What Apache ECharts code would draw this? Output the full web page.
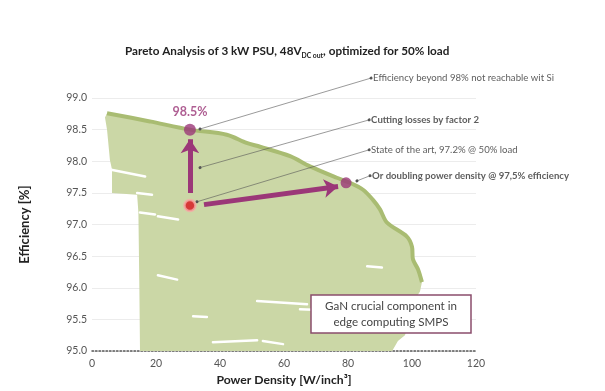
<!DOCTYPE html>
<html><head><meta charset="utf-8">
<script src="https://cdn.jsdelivr.net/npm/echarts@6.0.0/dist/echarts.min.js"></script>
<style>html,body{margin:0;padding:0;background:#fff}#c{width:605px;height:391px}</style>
</head><body><div id="c"></div>
<script>
// ---- data ----
const paretoX = [4.7, 18.1, 30.6, 42.1, 48.3, 52.5, 61.9, 68.1, 76.5, 80.6, 84.7, 87.8, 90.0, 92.2, 98.4, 100.0, 100.3, 101.9, 103.1];
const paretoY = [98.76, 98.63, 98.50, 98.42, 98.29, 98.23, 98.08, 97.92, 97.74, 97.66, 97.55, 97.39, 97.24, 97.03, 96.81, 96.65, 96.45, 96.29, 96.09];
const cloudEdgeX = [102.5, 100.9, 99.4, 97.8, 95.6, 93.8, 15.0, 14.8, 14.5, 14.1, 6.25, 6.25, 5.6, 4.7, 4.06];
const cloudEdgeY = [95.94, 95.82, 95.50, 95.25, 95.16, 95.0, 95.0, 96.0, 97.19, 97.47, 97.5, 97.87, 98.02, 98.5, 98.69];
const gapX1 = [5.6, 14.1, 15.0, 20.6, 20.6, 31.6, 51.6, 37.8, 53.4, 86.0, 65.0];
const gapY1 = [97.87, 97.50, 97.19, 97.13, 96.20, 95.55, 95.79, 95.14, 95.16, 96.34, 95.66];
const gapX2 = [16.6, 18.75, 19.7, 26.9, 26.6, 35.9, 67.2, 51.6, 59.7, 90.6, 71.25];
const gapY2 = [97.76, 97.47, 97.16, 97.08, 96.13, 95.54, 95.74, 95.17, 95.11, 96.32, 95.65];
const bestSi = [30.6, 98.5];
const stateOfArt = [30.6, 97.3];
const doubled = [79.4, 97.66];
const arrowFromX = [30.6, 35.0];
const arrowFromY = [97.50, 97.315];
const arrowToX = [30.6, 76.9];
const arrowToY = [98.35, 97.60];
const annoText = ['Efficiency beyond 98% not reachable wit Si', 'Cutting losses by factor 2', 'State of the art, 97.2% @ 50% load', 'Or doubling power density @ 97,5% efficiency'];
const annoBold = [false, true, false, true];
const annoAnchorX = [33.75, 33.75, 32.8, 82.8];
const annoAnchorY = [98.51, 97.90, 97.36, 97.69];
const annoLabelX = [87.2, 86.6, 86.6, 86.9];
const annoLabelY = [99.315, 98.654, 98.181, 97.772];
const yTicks = [95.0, 95.5, 96.0, 96.5, 97.0, 97.5, 98.0, 98.5, 99.0];
const xTicks = [0, 20, 40, 60, 80, 100, 120];

// ---- chart ----
const FONT = 'Lato';
const PURPLE = '#9b3778';
const polyX = paretoX.concat(cloudEdgeX);
const polyY = paretoY.concat(cloudEdgeY);
const chart = echarts.init(document.getElementById('c'), null, {renderer: 'canvas'});
const option = {
  animation: false,
  textStyle: {fontFamily: FONT},
  title: {
    left: 120, top: 38,
    text: '{a|Pareto Analysis of 3 kW PSU, 48V}{s|DC out}{a|, optimized for 50% load}',
    textStyle: {
      rich: {
        a: {fontFamily: FONT, fontSize: 11.7, fontWeight: 'bold', color: '#222', lineHeight: 16, verticalAlign: 'middle'},
        s: {fontFamily: FONT, fontSize: 6.8, fontWeight: 'bold', color: '#222', lineHeight: 16, verticalAlign: 'bottom'}
      }
    }
  },
  grid: {left: 92, right: 129, top: 98, bottom: 39},
  xAxis: {
    type: 'value', min: xTicks[0], max: xTicks[xTicks.length - 1], interval: 20,
    name: 'Power Density [W/inch³]', nameLocation: 'middle', nameGap: 19,
    nameTextStyle: {fontFamily: FONT, fontSize: 12.2, fontWeight: 'bold', color: '#222'},
    axisLine: {show: true, lineStyle: {color: '#555', width: 1.5, type: [1.5, 2]}},
    axisTick: {show: false},
    splitLine: {show: false},
    axisLabel: {color: '#555', fontSize: 10.5, margin: 7, fontFamily: FONT}
  },
  yAxis: {
    type: 'value', min: yTicks[0], max: yTicks[yTicks.length - 1], interval: 0.5,
    name: 'Efficiency [%]', nameLocation: 'middle', nameGap: 61,
    nameTextStyle: {fontFamily: FONT, fontSize: 13, fontWeight: 'bold', color: '#222'},
    axisLine: {show: false}, axisTick: {show: false},
    splitLine: {lineStyle: {color: '#ececec', width: 1}},
    axisLabel: {color: '#555', fontSize: 10.5, margin: 5, fontFamily: FONT, formatter: v => v.toFixed(1)}
  },
  series: [
    {
      type: 'custom', z: 1, silent: true,
      data: polyX.map((x, i) => [x, polyY[i]]),
      renderItem: function (params, api) {
        if (params.dataIndex !== 0) return;
        const pts = polyX.map((x, i) => api.coord([x, polyY[i]]));
        return {type: 'polygon', shape: {points: pts}, style: {fill: '#cbd7a6'}};
      }
    },
    {
      type: 'lines', coordinateSystem: 'cartesian2d', z: 2, silent: true,
      lineStyle: {color: '#ffffff', width: 2.5, opacity: 1, cap: 'round'},
      data: gapX1.map((x, i) => ({coords: [[x, gapY1[i]], [gapX2[i], gapY2[i]]]}))
    },
    {
      type: 'line', z: 3, silent: true, symbol: 'none', smooth: 0.3,
      lineStyle: {color: '#a9bc72', width: 4},
      data: paretoX.map((x, i) => [x, paretoY[i]])
    },
    {
      type: 'lines', coordinateSystem: 'cartesian2d', z: 4, silent: true, clip: false,
      symbol: ['circle', 'circle'], symbolSize: 3,
      lineStyle: {color: '#555', width: 0.6, opacity: 1},
      data: annoAnchorX.map((x, i) => ({coords: [[x, annoAnchorY[i]], [annoLabelX[i], annoLabelY[i]]]}))
    },
    {
      type: 'scatter', z: 5, silent: true, clip: false, symbolSize: 0,
      data: annoLabelX.map((x, i) => ({
        value: [x, annoLabelY[i]],
        label: {show: true, position: 'right', distance: 2, formatter: annoText[i],
          fontFamily: FONT, fontSize: 9.6, color: '#333', fontWeight: annoBold[i] ? 'bold' : 'normal'}
      }))
    },
    {
      type: 'lines', coordinateSystem: 'cartesian2d', z: 6, silent: true,
      symbol: ['none', 'arrow'], symbolSize: [0, 14],
      lineStyle: {color: PURPLE, width: 5, opacity: 1},
      data: arrowFromX.map((x, i) => ({coords: [[x, arrowFromY[i]], [arrowToX[i], arrowToY[i]]]}))
    },
    {
      type: 'scatter', z: 7, silent: true, clip: false,
      data: [
        {value: bestSi, symbolSize: 12, itemStyle: {color: PURPLE},
          label: {show: true, position: 'top', distance: 5, formatter: '98.5%', color: PURPLE, fontSize: 12.5, fontWeight: 'bold', fontFamily: FONT}},
        {value: stateOfArt, symbolSize: 11, itemStyle: {color: '#d8101c', borderColor: '#f6aaa6', borderWidth: 2.5}},
        {value: doubled, symbolSize: 11, itemStyle: {color: PURPLE}}
      ]
    }
  ],
  graphic: [
    {type: 'rect', z: 100, shape: {x: 311, y: 295, width: 160, height: 38},
      style: {fill: '#fff', stroke: '#8a4d6c', lineWidth: 1.5}},
    {type: 'text', z: 101, x: 391, y: 314,
      style: {text: 'GaN crucial component in\nedge computing SMPS', fill: '#444', fontSize: 11.6, fontFamily: FONT,
        align: 'center', verticalAlign: 'middle', lineHeight: 16}}
  ]
};
chart.setOption(option);
</script></body></html>
